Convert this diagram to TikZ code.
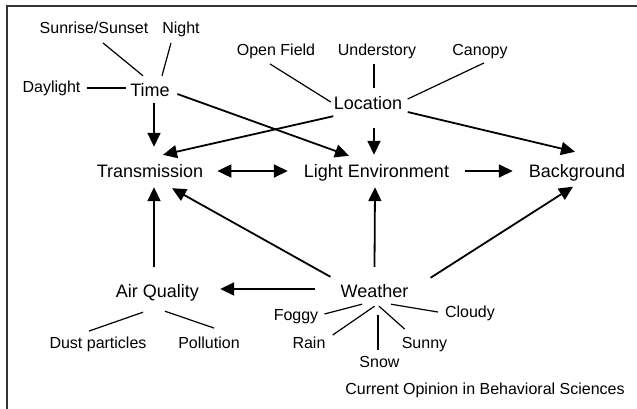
\documentclass[tikz,border=0pt]{standalone}
\usepackage{fontspec}
\setmainfont{Liberation Sans}
\usetikzlibrary{arrows.meta}

\tikzset{
    mainlab/.style={font=\fontsize{18}{20}\selectfont, text height=13pt, text depth=0pt, inner sep=3pt},
    smalllab/.style={font=\fontsize{16}{18}\selectfont, text height=11.5pt, text depth=0pt, inner sep=3pt},
    arr/.style={line width=1.8pt, ->},
    spoke/.style={line width=1.2pt},
    >={Triangle[length=14pt,width=13pt]}
}

\begin{document}
\begin{tikzpicture}[x=1pt,y=-1pt]
    \useasboundingbox (0,0) rectangle (637,408);
    \draw[line width=1.8pt, black!80] (7,6) rectangle (660,430);

    % main factors
    \node[mainlab] (time) at (150,90) {Time};
    \node[mainlab] (location) at (368,103) {Location};
    \node[mainlab] (trans) at (150,171) {Transmission};
    \node[mainlab] (light) at (376.5,171) {Light Environment};
    \node[mainlab] (backg) at (577,171) {Background};
    \node[mainlab] (air) at (157.5,291) {Air Quality};
    \node[mainlab] (weather) at (374.5,291) {Weather};

    % levels
    \node[smalllab] (sunrise) at (94,28) {Sunrise/Sunset};
    \node[smalllab] (night) at (181,28) {Night};
    \node[smalllab] (daylight) at (51.5,87) {Daylight};
    \node[smalllab] (openfield) at (276,50) {Open Field};
    \node[smalllab] (understory) at (377,50) {Understory};
    \node[smalllab] (canopy) at (480,50) {Canopy};
    \node[smalllab] (dust) at (98,343) {Dust particles};
    \node[smalllab] (pollution) at (209,343) {Pollution};
    \node[smalllab] (foggy) at (296,315) {Foggy};
    \node[smalllab] (rain) at (309,343) {Rain};
    \node[smalllab] (snow) at (379.5,362) {Snow};
    \node[smalllab] (sunny) at (424.5,343) {Sunny};
    \node[smalllab] (cloudy) at (470,312) {Cloudy};
    \node[smalllab] (caption) at (485,389) {Current Opinion in Behavioral Sciences};

    % arrows
    \draw[arr] ([xshift=4pt,yshift=-3.5pt]time.south) -- ([xshift=4pt,yshift=14.5pt]trans.north);
    \draw[arr] ([xshift=2.5pt,yshift=-3.5pt]location.south west) -- ([xshift=13pt,yshift=6.5pt]trans.north);
    \draw[arr] ([xshift=4.5pt,yshift=-4pt]time.east) -- ([xshift=-27.5pt,yshift=5.5pt]light.north);
    \draw[arr] ([xshift=6pt,yshift=-15.5pt]location.south) -- ([xshift=-2.5pt,yshift=6.5pt]light.north);
    \draw[arr] ([xshift=2.5pt,yshift=-9pt]location.east) -- ([xshift=-2pt,yshift=9.5pt]backg.north);
    \draw[arr] ([xshift=13pt]light.east) -- ([xshift=-13pt]backg.west);
    \draw[arr,<->] ([xshift=11pt]trans.east) -- ([xshift=-13pt]light.west);
    \draw[arr] ([xshift=-3.5pt,yshift=14.5pt]air.north) -- ([xshift=4pt,yshift=-6.5pt]trans.south);
    \draw[arr] ([xshift=-22pt,yshift=2pt]weather.west) -- ([xshift=18pt,yshift=2pt]air.east);
    \draw[arr] ([xshift=-7pt,yshift=4.5pt]weather.north west) -- ([xshift=22pt,yshift=-7.5pt]trans.south);
    \draw[arr] ([yshift=14.5pt]weather.north) -- ([xshift=-1.5pt,yshift=-6.5pt]light.south);
    \draw[arr] ([xshift=19pt,yshift=3.5pt]weather.north east) -- ([xshift=-4pt,yshift=-6pt]backg.south);

    % spokes
    \draw[spoke] ([xshift=3pt,yshift=-1pt]daylight.east) -- ([xshift=-1.5pt,yshift=2pt]time.west);
    \draw[spoke] ([xshift=9pt,yshift=-6pt]sunrise.south) -- ([xshift=-7pt,yshift=4.5pt]time.north);
    \draw[spoke] ([xshift=-10pt,yshift=-6pt]night.south) -- ([xshift=12pt,yshift=4.5pt]time.north);
    \draw[spoke] ([xshift=-6pt,yshift=-5pt]openfield.south) -- ([yshift=1pt]location.west);
    \draw[spoke] ([xshift=-3pt,yshift=-5pt]understory.south) -- ([xshift=6pt,yshift=5.5pt]location.north);
    \draw[spoke] ([xshift=4pt,yshift=-4pt]canopy.south) -- ([xshift=2.5pt,yshift=4pt]location.east);
    \draw[spoke] ([xshift=-14.5pt,yshift=-11.5pt]air.south) -- ([xshift=-9pt,yshift=3pt]dust.north);
    \draw[spoke] ([xshift=7.5pt,yshift=-10.5pt]air.south) -- ([xshift=5pt,yshift=6pt]pollution.north);
    \draw[spoke] ([xshift=3pt,yshift=1pt]foggy.east) -- ([xshift=-12.5pt,yshift=-3.5pt]weather.south);
    \draw[spoke] ([xshift=4pt,yshift=-1pt]rain.north east) -- ([yshift=-5.5pt]weather.south);
    \draw[spoke] ([xshift=-1.5pt,yshift=3pt]snow.north) -- ([xshift=3.5pt,yshift=-14.5pt]weather.south);
    \draw[spoke] ([xshift=4.5pt,yshift=-5.5pt]weather.south) -- ([xshift=6pt,yshift=5pt]sunny.north west);
    \draw[spoke] ([xshift=16.5pt,yshift=-3.5pt]weather.south) -- ([xshift=-4pt]cloudy.west);
\end{tikzpicture}
\end{document}
